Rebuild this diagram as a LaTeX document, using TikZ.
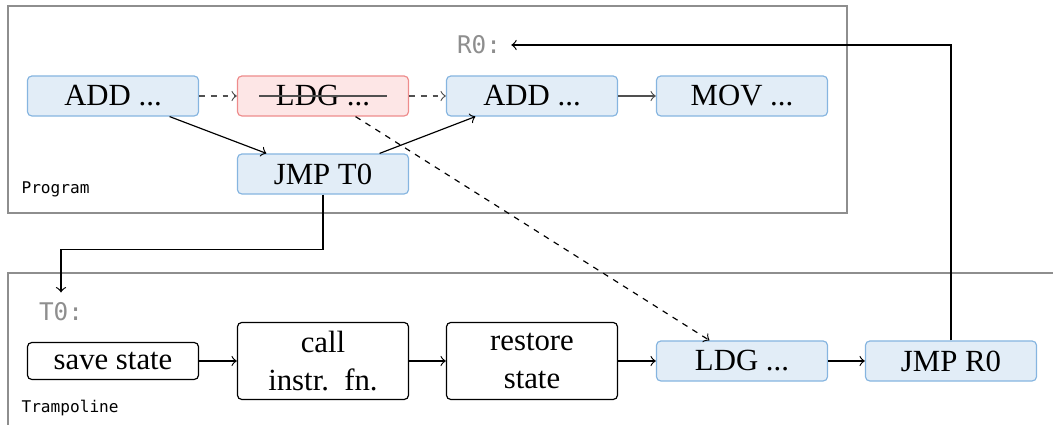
\documentclass[tikz,border=0pt]{standalone}
\usepackage{fontspec}
\setmainfont{Liberation Serif}
\setmonofont{DejaVu Sans Mono}
\usetikzlibrary{positioning}
\definecolor{insfill}{HTML}{E2EDF7}
\definecolor{insdraw}{HTML}{86B5E0}
\definecolor{delfill}{HTML}{FDE6E6}
\definecolor{deldraw}{HTML}{EE8C8C}
\definecolor{framegray}{HTML}{8E8E8E}
\definecolor{flowgray}{HTML}{505050}
\tikzset{
insn/.style={ % Sets the properties for each instruction
rounded corners=1.5pt,
draw=insdraw, fill=insfill,
minimum width=2.052cm, minimum height=0.48cm,
inner sep=0pt,
font=\fontsize{10.5}{12.8}\selectfont},
removed/.style={insn, draw=deldraw, fill=delfill},
stepbox/.style={ % Trampoline steps
rounded corners=1.5pt, draw,
minimum width=2.052cm, minimum height=0.444cm,
inner sep=0pt, align=center,
font=\fontsize{10.5}{12.8}\selectfont},
region/.style={draw=framegray},
tag/.style={anchor=west, inner sep=0pt, font=\ttfamily\fontsize{5.5}{6.5}\selectfont},
addr/.style={text=framegray, font=\ttfamily\fontsize{8.3}{10}\selectfont},
flow/.style={dash pattern=on 2pt off 2pt, draw=flowgray},
every edge/.style={ % Sets the properties for each connector
draw,
->}}
\begin{document}
\begin{tikzpicture}[x=0.012cm, y=-0.012cm]
\useasboundingbox (0,0) rectangle (1053,425);
% frames
\draw[region] (8,6) rectangle (847,213);
\begin{scope}
\clip (0,0) rectangle (1053,425);
\draw[region] (8,273) rectangle (1070,445);
\end{scope}
\node[tag] (prog) at (21,189) {Program};
\node[tag] (tramp) at (21,408) {Trampoline};
% program
\node[insn] (add1) at (113,96) {ADD ...};
\node[removed] (ldg) at (323,96) {LDG ...};
\node[insn] (add2) at (532,96) {ADD ...};
\node[insn] (mov) at (742,96) {MOV ...};
\node[insn] (jmpt0) at (323,174) {JMP T0};
\node[addr] (r0) at (479,45) {R0:};
\draw[flowgray] ([xshift=0.27cm]ldg.west) -- ([xshift=-0.27cm]ldg.east);
% trampoline
\node[addr] (t0) at (61,312) {T0:};
\node[stepbox] (save) at (113,361) {save state};
\node[stepbox, minimum height=0.924cm] (call) at (323,361) {call\\instr.~~fn.};
\node[stepbox, minimum height=0.924cm] (restore) at (532,361) {restore\\state};
\node[insn] (ldg2) at (742,361) {LDG ...};
\node[insn] (jmpr0) at (951,361) {JMP R0};
% connectors
\draw (add1) edge[flow] (ldg);
\draw (ldg) edge[flow] (add2);
\draw (add2) edge[draw=flowgray] (mov);
\draw (add1.-20) edge (jmpt0.160);
\draw (jmpt0.20) edge (add2.200);
\draw (ldg) edge[dash pattern=on 2pt off 2pt] (ldg2);
\draw (save) edge (call);
\draw (call) edge (restore);
\draw (restore) edge (ldg2);
\draw (ldg2) edge (jmpr0);
\draw[->] (jmpt0.south) -- ++(0,55) -| (t0.north);
\draw[->] (jmpr0.north) |- (r0.east);
\end{tikzpicture}
\end{document}
